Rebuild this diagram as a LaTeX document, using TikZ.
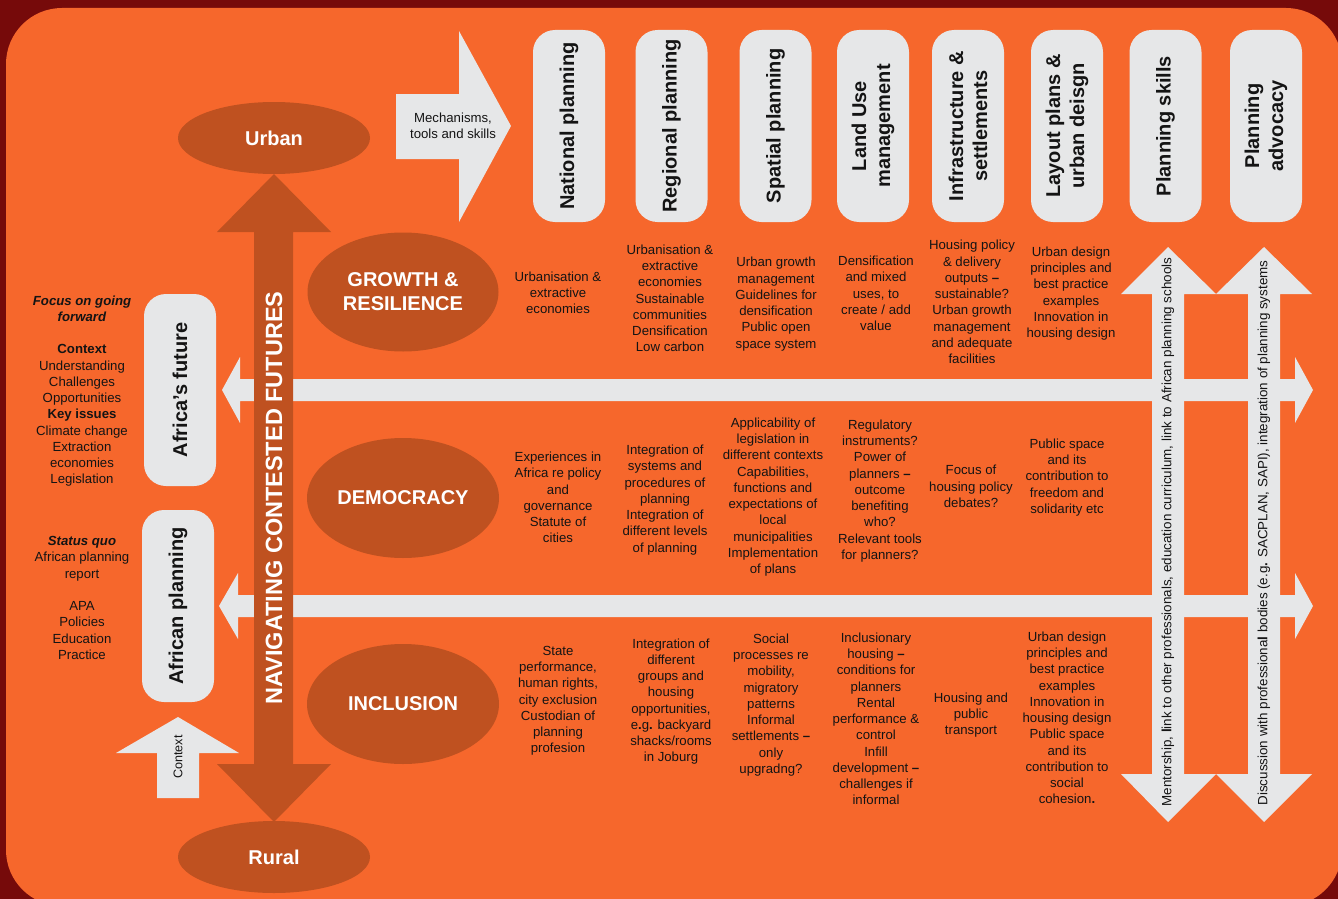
\documentclass[tikz,border=0pt]{standalone}
\usepackage{fontspec}
\setmainfont{Liberation Sans}
\usetikzlibrary{shapes.geometric}
\definecolor{bgred}{HTML}{760A0A}
\definecolor{org}{HTML}{F6672C}
\definecolor{brn}{HTML}{BF5120}
\definecolor{lgray}{HTML}{E6E7E8}
\definecolor{txt}{HTML}{141414}
\begin{document}
\begin{tikzpicture}[x=1pt,y=-1pt,
  cell/.style={align=center, text=txt, font=\fontsize{13.2}{16.25}\selectfont, inner sep=0pt},
  hdr/.style={rectangle, rounded corners=22pt, fill=lgray, rotate=90, minimum width=192pt, minimum height=72pt, align=center, text=txt, font=\bfseries\fontsize{20}{24}\selectfont, inner sep=0pt},
  theme/.style={ellipse, fill=brn, text=white, font=\bfseries\fontsize{20}{24}\selectfont, align=center, inner sep=0pt},
  garrow/.style={fill=lgray},
  barrow/.style={fill=brn},
  vlabel/.style={rotate=90, text=txt, font=\fontsize{12.6}{15}\selectfont, inner sep=0pt},
  longlabel/.style={rotate=90, text=txt, font=\fontsize{13.4}{16}\selectfont, inner sep=0pt}
]
\useasboundingbox (0,0) rectangle (1338,899);
% background
\fill[bgred] (0,0) rectangle (1338,899);
\fill[org, rounded corners=56pt] (6,8) rectangle (1342,906);

% horizontal double arrows
\fill[garrow] (222,390) -- (240,357) -- (240,379) -- (1295,379) -- (1295,357) -- (1313,390)
  -- (1295,423) -- (1295,401) -- (240,401) -- (240,423) -- cycle;
\fill[garrow] (219,606) -- (238,573) -- (238,595) -- (1295,595) -- (1295,573) -- (1313,606)
  -- (1295,639) -- (1295,617) -- (238,617) -- (238,639) -- cycle;

% vertical double arrows (right)
\fill[garrow] (1168,247) -- (1216,294) -- (1184,294) -- (1184,774) -- (1216,774) -- (1168,822)
  -- (1121,774) -- (1152,774) -- (1152,294) -- (1121,294) -- cycle;
\fill[garrow] (1264,247) -- (1312,294) -- (1280,294) -- (1280,774) -- (1312,774) -- (1264,822)
  -- (1216,774) -- (1248,774) -- (1248,294) -- (1216,294) -- cycle;

% central brown double arrow
\fill[barrow] (274,174) -- (331,232) -- (293,232) -- (293,764) -- (331,764) -- (274,822)
  -- (217,764) -- (254,764) -- (254,232) -- (217,232) -- cycle;

% mechanisms arrow
\fill[garrow] (396,94) -- (459,94) -- (459,31) -- (511,126) -- (459,222) -- (459,159) -- (396,159) -- cycle;
\node[cell] (mech) at (453,126) {Mechanisms,\\tools and skills};

% context arrow
\fill[garrow] (178,717) -- (239,753) -- (199,753) -- (199,798) -- (157,798) -- (157,753) -- (116,753) -- cycle;
\node[vlabel] (ctx) at (178,757) {Context};

% central label
\node[rotate=90, text=white, font=\bfseries\fontsize{23.5}{28}\selectfont, inner sep=0pt] (nav) at (274,498) {NAVIGATING CONTESTED FUTURES};

% urban / rural
\node[theme, minimum width=192pt, minimum height=72pt] (urban) at (274,138) {Urban};
\node[theme, minimum width=192pt, minimum height=72pt] (rural) at (274,857) {Rural};

% themes
\node[theme, minimum width=191pt, minimum height=119pt] (growth) at (403,292) {GROWTH \&\\RESILIENCE};
\node[theme, minimum width=192pt, minimum height=120pt] (democ) at (403,498) {DEMOCRACY};
\node[theme, minimum width=192pt, minimum height=120pt] (incl) at (403,704) {INCLUSION};

% headers
\node[hdr] (h1) at (569,126) {National planning};
\node[hdr] (h2) at (671.5,126) {Regional planning};
\node[hdr] (h3) at (775.5,126) {Spatial planning};
\node[hdr] (h4) at (873,126) {Land Use\\management};
\node[hdr] (h5) at (968,126) {Infrastructure \&\\settlements};
\node[hdr] (h6) at (1067,126) {Layout plans \&\\urban deisgn};
\node[hdr] (h7) at (1165.5,126) {Planning skills};
\node[hdr] (h8) at (1266,126) {Planning\\advocacy};

% left boxes
\node[hdr] (afut) at (180,390) {Africa’s future};
\node[hdr] (aplan) at (178,606) {African planning};

% left column text
\node[cell] (focus) at (82,391) {\textbf{\textit{Focus on going}}\\\textbf{\textit{forward}}\\[16.25pt]\textbf{Context}\\Understanding\\Challenges\\Opportunities\\\textbf{Key issues}\\Climate change\\Extraction\\economies\\Legislation};
\node[cell] (status) at (82,598) {\textbf{\textit{Status quo}}\\African planning\\report\\[16.25pt]APA\\Policies\\Education\\Practice};

% row 1
\node[cell] (r1c1) at (558,293) {Urbanisation \&\\extractive\\economies};
\node[cell] (r1c2) at (670,298.5) {Urbanisation \&\\extractive\\economies\\Sustainable\\communities\\Densification\\Low carbon};
\node[cell] (r1c3) at (776,304) {Urban growth\\management\\Guidelines for\\densification\\Public open\\space system};
\node[cell] (r1c4) at (876,293.5) {Densification\\and mixed\\uses, to\\create / add\\value};
\node[cell] (r1c5) at (972,302) {Housing policy\\\& delivery\\outputs \textbf{–}\\sustainable?\\Urban growth\\management\\and adequate\\facilities};
\node[cell] (r1c6) at (1071,293.5) {Urban design\\principles and\\best practice\\examples\\Innovation in\\housing design};

% row 2
\node[cell] (r2c1) at (558,497.5) {Experiences in\\Africa re policy\\and\\governance\\Statute of\\cities};
\node[cell] (r2c2) at (665,500) {Integration of\\systems and\\procedures of\\planning\\Integration of\\different levels\\of planning};
\node[cell] (r2c3) at (773,497) {Applicability of\\legislation in\\different contexts\\Capabilities,\\functions and\\expectations of\\local\\municipalities\\Implementation\\of plans};
\node[cell] (r2c4) at (880,491) {Regulatory\\instruments?\\Power of\\planners \textbf{–}\\outcome\\benefiting\\who?\\Relevant tools\\for planners?};
\node[cell] (r2c5) at (971,486.5) {Focus of\\housing policy\\debates?};
\node[cell] (r2c6) at (1067,477.5) {Public space\\and its\\contribution to\\freedom and\\solidarity etc};

% row 3
\node[cell] (r3c1) at (558,701) {State\\performance,\\human rights,\\city exclusion\\Custodian of\\planning\\profesion};
\node[cell] (r3c2) at (671,701.5) {Integration of\\different\\groups and\\housing\\opportunities,\\e\textbf{.}g\textbf{.} backyard\\shacks/rooms\\in Joburg};
\node[cell] (r3c3) at (771,705) {Social\\processes re\\mobility,\\migratory\\patterns\\Informal\\settlements \textbf{–}\\only\\upgradng?};
\node[cell] (r3c4) at (876,719) {Inclusionary\\housing \textbf{–}\\conditions for\\planners\\Rental\\performance \&\\control\\Infill\\development \textbf{–}\\challenges if\\informal};
\node[cell] (r3c5) at (971,715) {Housing and\\public\\transport};
\node[cell] (r3c6) at (1067,718) {Urban design\\principles and\\best practice\\examples\\Innovation in\\housing design\\Public space\\and its\\contribution to\\social\\cohesion\textbf{.}};

% right vertical labels
\node[longlabel] (ment) at (1168,532) {Mentorship, \textbf{l}ink to other professionals, education curriculum, link to African planning schools};
\node[longlabel] (disc) at (1264,533) {Discussion with professiona\textbf{l} bodies (e.g\textbf{.} SACPLAN, SAPI), integration of planning systems};
\end{tikzpicture}
\end{document}
